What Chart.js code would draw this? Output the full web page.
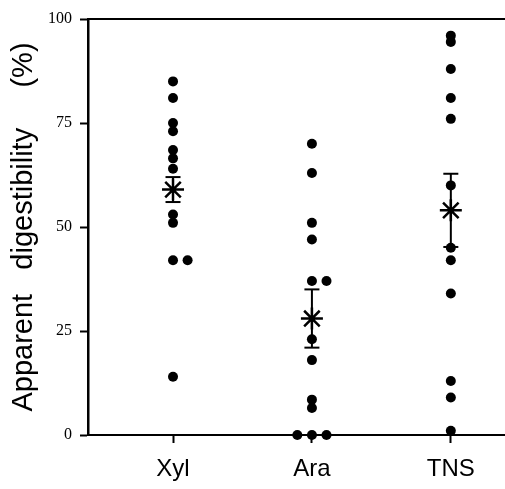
<!DOCTYPE html>
<html>
<head>
<meta charset="utf-8">
<script src="https://cdn.jsdelivr.net/npm/chart.js@4.4.1/dist/chart.umd.min.js"></script>
<style>
    html, body { margin: 0; padding: 0; background: #fff; }
    #wrap { width: 505px; height: 489px; position: relative; }
</style>
</head>
<body>
<div id="wrap"><canvas id="chart"></canvas></div>
<script>
// values
const categories = ['Xyl', 'Ara', 'TNS'];
const xylValues = [85, 81, 75, 73, 68.5, 66.5, 64, 53, 51, 42, 42, 14];
const araValues = [70, 63, 51, 47, 37, 37, 23, 18, 8.5, 6.5, 0, 0, 0];
const tnsValues = [96, 94.5, 88, 81, 76, 60, 45, 42, 34, 13, 9, 1];
const means = [59, 28, 54];
const errors = [3, 7, 8.8];
const yTicks = [0, 25, 50, 75, 100];

// identical values are set side by side, like the original
function spread(values, pos) {
    const seen = {};
    return values.map(v => {
        const k = seen[v] || 0;
        seen[v] = k + 1;
        const shift = k === 0 ? 0 : (k === 1 ? 1 : -1);
        return { x: pos + shift * 0.105, y: v };
    });
}

const groups = [xylValues, araValues, tnsValues];
const dotData = [];
groups.forEach((vals, i) => dotData.push(...spread(vals, i + 1)));

const errorSets = means.map((m, i) => ({
    type: 'scatter',
    data: [{ x: i + 1, y: m - errors[i] }, { x: i + 1, y: m + errors[i] }],
    showLine: true,
    borderColor: '#000',
    borderWidth: 2,
    pointStyle: 'line',
    pointRadius: 7.5,
    pointBorderWidth: 2,
    pointBorderColor: '#000',
    clip: false,
    order: 1
}));

new Chart(document.getElementById('chart'), {
    type: 'scatter',
    data: {
        datasets: [
            {
                data: means.map((m, i) => ({ x: i + 1, y: m })),
                pointStyle: 'star',
                pointRadius: 11,
                pointBorderWidth: 2.5,
                pointBorderColor: '#000',
                pointBackgroundColor: '#000',
                clip: false,
                order: 0
            },
            ...errorSets,
            {
                data: dotData,
                pointStyle: 'circle',
                pointRadius: 5,
                pointBorderWidth: 0,
                pointBackgroundColor: '#000',
                clip: false,
                order: 2
            }
        ]
    },
    options: {
        responsive: true,
        maintainAspectRatio: false,
        animation: false,
        layout: { autoPadding: false, padding: 0 },
        plugins: {
            legend: { display: false },
            tooltip: { enabled: false }
        },
        scales: {
            x: {
                type: 'linear',
                position: 'bottom',
                min: 0.388,
                max: 3.39,
                afterBuildTicks: scale => {
                    scale.ticks = categories.map((c, i) => ({ value: i + 1 }));
                },
                afterFit: scale => { scale.height = 54; },
                ticks: {
                    color: '#000',
                    padding: 12,
                    font: { family: 'Liberation Sans, Arial, sans-serif', size: 24 },
                    callback: v => categories[v - 1]
                },
                grid: {
                    drawOnChartArea: false,
                    drawTicks: true,
                    tickLength: 8,
                    tickColor: '#000',
                    tickWidth: 2
                },
                border: { display: true, color: '#000', width: 2 }
            },
            x2: {
                type: 'linear',
                position: 'top',
                min: 0.388,
                max: 3.39,
                afterFit: scale => { scale.height = 19; },
                ticks: { display: false },
                grid: { drawOnChartArea: false, drawTicks: false },
                border: { display: true, color: '#000', width: 2 }
            },
            y: {
                min: 0,
                max: 100,
                afterBuildTicks: scale => {
                    scale.ticks = yTicks.map(v => ({ value: v }));
                },
                afterFit: scale => { scale.width = 88; },
                ticks: {
                    color: '#000',
                    padding: 8,
                    font: { family: 'Liberation Serif, Times New Roman, serif', size: 16 }
                },
                grid: {
                    drawOnChartArea: false,
                    drawTicks: true,
                    tickLength: 8,
                    tickColor: '#000',
                    tickWidth: 2
                },
                border: { display: true, color: '#000', width: 2.5 },
                title: {
                    display: true,
                    text: 'Apparent   digestibility     (%)',
                    color: '#000',
                    padding: { top: 7, bottom: 0 },
                    font: { family: 'Liberation Sans, Arial, sans-serif', size: 29, weight: 'normal' }
                }
            }
        }
    }
});
</script>
</body>
</html>
